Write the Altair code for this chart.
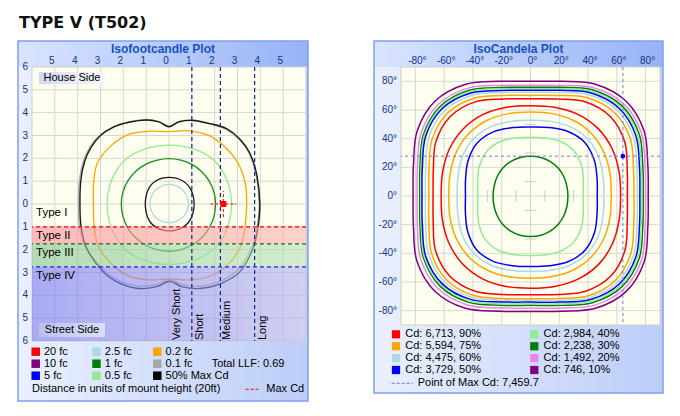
import math
import altair as alt
import pandas as pd

# ------------------------------------------------------------------ data
MAIN_TITLE = "TYPE V (T502)"
FC_TITLE = "Isofootcandle Plot"
CD_TITLE = "IsoCandela Plot"

# sampling directions (degrees) used by the contour radius tables
ANGLES = [0, 15, 30, 45, 60, 75, 90, 105, 120, 135, 150, 165,
          180, 195, 210, 225, 240, 255, 270, 285, 300, 315, 330, 345]

# --- Isofootcandle plot (units of mounting height, + = house side)
FC_X_LABELS = [-5, -4, -3, -2, -1, 0, 1, 2, 3, 4, 5]
FC_Y_LABELS = [6, 5, 4, 3, 2, 1, 0, -1, -2, -3, -4, -5, -6]
FC_GRID = [-5, -4, -3, -2, -1, 0, 1, 2, 3, 4, 5]
LATERAL_BOUNDS = [1.0, 2.25, 3.75]
LATERAL_LABELS = ["Very Short", "Short", "Medium", "Long"]
TYPE_BOUNDS = [-1.0, -1.75, -2.75, -6.0]
TYPE_LABELS = ["Type I", "Type II", "Type III", "Type IV"]
SIDE_LABELS = ["House Side", "Street Side"]

FC_R_ORANGE_02 = [3.40, 3.46, 3.51, 3.50, 3.47, 3.32, 3.17, 3.30, 3.52, 3.60, 3.62, 3.42,
                  3.31, 3.40, 3.60, 3.64, 3.62, 3.44, 3.28, 3.44, 3.64, 3.70, 3.64, 3.46]
FC_R_LGREEN_05 = [2.74, 2.743, 2.754, 2.745, 2.672, 2.604, 2.58, 2.602, 2.665, 2.73, 2.731, 2.715,
                  2.71, 2.72, 2.75, 2.766, 2.719, 2.667, 2.65, 2.669, 2.726, 2.781, 2.772, 2.748]
FC_R_GREEN_1 = [2.04, 2.037, 2.028, 2.015, 2.002, 1.993, 1.99, 1.993, 2.015, 2.04, 2.065, 2.083,
                2.09, 2.089, 2.085, 2.08, 2.075, 2.071, 2.07, 2.068, 2.063, 2.055, 2.048, 2.042]
FC_R_RING = [1.10, 1.11, 1.14, 1.171, 1.176, 1.172, 1.17, 1.168, 1.161, 1.14, 1.094, 1.053,
             1.04, 1.054, 1.097, 1.146, 1.168, 1.177, 1.18, 1.181, 1.183, 1.176, 1.142, 1.111]
FC_R_LBLUE_25 = [0.85, 0.85, 0.853, 0.855, 0.858, 0.86, 0.86, 0.86, 0.855, 0.85, 0.842, 0.835,
                 0.83, 0.83, 0.828, 0.825, 0.822, 0.82, 0.82, 0.82, 0.825, 0.83, 0.838, 0.845]

MAXCD50_X = [0.00, 0.45, 1.05, 1.80, 2.52, 3.10, 3.55, 3.85, 3.98, 3.90, 3.69, 3.12, 2.30, 1.35, 0.55, 0.03,
             -0.55, -1.30, -2.20, -2.90, -3.60, -3.85, -3.90, -3.86, -3.70, -3.40, -3.00, -2.45, -1.75, -1.00, -0.45]
MAXCD50_Y = [3.38, 3.60, 3.66, 3.52, 3.30, 2.85, 2.21, 1.25, 0.00, -1.00, -1.92, -2.95, -3.47, -3.70, -3.62, -3.38,
             -3.62, -3.70, -3.45, -2.95, -1.95, -1.00, 0.00, 1.05, 1.85, 2.50, 3.00, 3.36, 3.58, 3.68, 3.60]
FC01_X = [0.00, 0.45, 1.05, 1.80, 2.52, 3.10, 3.52, 3.82, 3.95, 3.86, 3.62, 3.05, 2.25, 1.35, 0.55, 0.03,
          -0.55, -1.30, -2.20, -2.90, -3.65, -3.92, -3.96, -3.92, -3.75, -3.45, -3.02, -2.45, -1.75, -1.00, -0.45]
FC01_Y = [3.42, 3.62, 3.68, 3.50, 3.26, 2.80, 2.20, 1.25, 0.00, -1.00, -1.90, -2.85, -3.38, -3.60, -3.52, -3.30,
          -3.52, -3.60, -3.36, -2.86, -1.90, -1.00, 0.00, 1.05, 1.87, 2.52, 3.02, 3.38, 3.60, 3.70, 3.62]

MAX_CD_FC = [2.38, 0.0]

FC_LEGEND_LABELS = ["20 fc", "10 fc", "5 fc", "2.5 fc", "1 fc", "0.5 fc", "0.2 fc", "0.1 fc", "50% Max Cd"]
FC_LEGEND_COLORS = ["#FF0000", "#800080", "#0000FF", "#ADD8E6", "#008000", "#90EE90", "#FFA500", "#A9A9A9", "#000000"]
LLF_TEXT = "Total LLF: 0.69"
DIST_TEXT = "Distance in units of mount height (20ft)"
MAXCD_TEXT = "Max Cd"

# --- IsoCandela plot (degrees)
CD_TICKS = [-80, -60, -40, -20, 0, 20, 40, 60, 80]
CD_CENTER_TICKS_V = [50, 30, 10, -10, -30]
CD_CENTER_TICKS_H = [-30, -10, 10, 30]
CD_LEVELS = ["90%", "75%", "60%", "50%", "40%", "30%", "20%", "10%"]
CD_COLORS = ["#FF0000", "#FFA500", "#ADD8E6", "#0000FF", "#90EE90", "#008000", "#EE82EE", "#800080"]
CD_OUTER = {
    "10%": [81.8, 84.4, 91.1, 93.8, 90.1, 82.8, 80.0, 82.8, 90.0, 93.7, 90.9, 84.2,
            81.6, 84.2, 91.1, 94.0, 90.5, 83.2, 80.5, 83.2, 90.5, 94.1, 91.3, 84.4],
    "20%": [80.0, 82.4, 88.8, 91.2, 87.2, 79.9, 77.2, 79.9, 86.9, 90.5, 87.8, 81.3,
            78.8, 81.4, 88.1, 91.1, 87.8, 80.8, 78.2, 80.9, 88.1, 91.8, 89.1, 82.5],
    "30%": [78.4, 80.8, 87.1, 89.4, 85.6, 78.5, 75.8, 78.4, 85.2, 88.6, 85.9, 79.5,
            77.0, 79.5, 86.0, 88.9, 85.7, 78.9, 76.3, 79.0, 86.0, 89.7, 87.2, 80.8],
    "40%": [77.2, 79.6, 85.8, 88.2, 84.4, 77.4, 74.8, 77.4, 84.2, 87.6, 85.0, 78.6,
            76.2, 78.6, 85.1, 87.8, 84.5, 77.8, 75.2, 77.8, 84.8, 88.4, 85.9, 79.6],
    "50%": [76.0, 78.4, 84.5, 86.8, 83.2, 76.3, 73.7, 76.2, 83.0, 86.5, 84.0, 77.8,
            75.4, 77.8, 84.1, 86.7, 83.3, 76.5, 74.0, 76.6, 83.4, 87.0, 84.6, 78.4],
    "60%": [74.2, 76.5, 82.6, 85.0, 81.5, 74.8, 72.3, 74.7, 81.2, 84.3, 81.6, 75.4,
            73.0, 75.4, 81.7, 84.6, 81.6, 75.2, 72.8, 75.3, 81.9, 85.3, 82.7, 76.6],
    "75%": [71.9, 74.1, 80.1, 82.4, 79.1, 72.6, 70.2, 72.6, 78.8, 81.7, 79.0, 73.0,
            70.7, 73.1, 79.5, 82.6, 80.0, 74.0, 71.7, 74.1, 80.4, 83.3, 80.5, 74.3],
    "90%": [67.3, 69.6, 75.6, 78.4, 75.9, 70.1, 67.9, 70.1, 76.0, 78.6, 75.9, 69.9,
            67.7, 70.0, 76.2, 79.2, 76.8, 71.1, 68.9, 71.1, 76.7, 79.0, 75.8, 69.6],
}
CD_INNER = {
    "90%": [62.6, 63.8, 65.6, 66.5, 65.8, 64.1, 63.0, 64.1, 65.7, 66.2, 65.2, 63.3,
            62.1, 63.4, 65.5, 66.9, 66.7, 65.3, 64.3, 65.3, 66.8, 67.2, 65.9, 63.8],
    "75%": [56.1, 57.3, 59.3, 60.7, 60.6, 59.5, 58.6, 59.5, 60.8, 61.1, 59.9, 57.9,
            56.8, 57.9, 59.5, 60.4, 59.8, 58.3, 57.3, 58.2, 59.6, 60.0, 59.0, 57.2],
    "60%": [51.0, 52.2, 54.7, 56.3, 55.7, 53.9, 52.9, 53.9, 55.7, 56.3, 54.7, 52.2,
            51.0, 52.2, 54.7, 56.2, 55.6, 53.7, 52.7, 53.7, 55.6, 56.2, 54.7, 52.2],
    "50%": [46.4, 47.9, 51.0, 53.1, 52.0, 49.5, 48.2, 49.4, 51.7, 52.4, 50.0, 46.7,
            45.2, 46.8, 50.3, 53.0, 52.5, 50.3, 49.2, 50.4, 52.8, 53.6, 51.3, 47.9],
    "40%": [36.6, 38.0, 41.1, 43.5, 43.5, 41.9, 41.0, 41.9, 43.5, 43.5, 41.1, 38.0,
            36.6, 38.0, 41.2, 43.8, 43.9, 42.4, 41.5, 42.4, 43.9, 43.8, 41.2, 38.0],
    "30%": [26.0, 26.2, 26.8, 27.4, 27.7, 27.8, 27.8, 27.8, 27.7, 27.4, 26.8, 26.2,
            26.0, 26.3, 26.9, 27.6, 28.1, 28.3, 28.3, 28.3, 28.1, 27.6, 26.9, 26.3],
}
MAX_CD_H = 64.2
MAX_CD_V = 27.8
CD_LEGEND_LABELS = ["Cd: 6,713, 90%", "Cd: 5,594, 75%", "Cd: 4,475, 60%", "Cd: 3,729, 50%",
                    "Cd: 2,984, 40%", "Cd: 2,238, 30%", "Cd: 1,492, 20%", "Cd: 746, 10%"]
MAX_CD_TEXT = "Point of Max Cd: 7,459.7"

# ------------------------------------------------------------------ style / layout
FONT = "Liberation Sans"
TITLE_FONT = "DejaVu Sans"
AXIS_COLOR = "#13348F"
TITLE_COLOR = "#1652C0"
BORDER = "#7F9FF0"
GRID_COLOR = "#D6D6D6"
PLOT_BG = "#FFFFF0"

LW, LH = 274, 274
RW, RH = 259, 258
SPACING = 95
PPU = LW / 12.0


def grad(c0, c1, x2=1, y2=0):
    return {"gradient": "linear", "x1": 0, "y1": 0, "x2": x2, "y2": y2,
            "stops": [{"offset": 0, "color": c0}, {"offset": 1, "color": c1}]}


FRAME_GRAD = grad("#EAF0FF", "#BCCDF8")
TOP_GRAD = grad("#D9E4FF", "#97B3F7")
BAND_GRADS = [grad("#FF8C96", "#FFB4AE"), grad("#82C48C", "#B7DFBA"), grad("#7171F7", "#B1B1F0")]
TYPE_LINE_COLORS = ["#FF0000", "#1E6B1E", "#1F1FFF"]
LAT_COLOR = "#0A2A8C"

ONE = pd.DataFrame({"k": [0]})

XS_L = alt.Scale(domain=[-6, 6], nice=False, zero=False)
YS_L = alt.Scale(domain=[-6, 6], nice=False, zero=False)
XS_R = alt.Scale(domain=[-90, 90], nice=False, zero=False)
YS_R = alt.Scale(domain=[-90, 90], nice=False, zero=False)


def px_rect(x1, y1, x2, y2, **kw):
    return alt.Chart(ONE).mark_rect(**kw).encode(
        x=alt.value(x1), x2=alt.value(x2), y=alt.value(y1), y2=alt.value(y2))


def px_rule(x1, y1, x2, y2, **kw):
    return alt.Chart(ONE).mark_rule(**kw).encode(
        x=alt.value(x1), x2=alt.value(x2), y=alt.value(y1), y2=alt.value(y2))


def px_text(txt, x, y, **kw):
    base = dict(font=FONT, fontSize=11, color="black", align="left", baseline="middle")
    base.update(kw)
    return alt.Chart(ONE).mark_text(text=txt, **base).encode(x=alt.value(x), y=alt.value(y))


def px_square(x, y, color, size=72):
    return alt.Chart(ONE).mark_square(color=color, size=size, opacity=1).encode(
        x=alt.value(x), y=alt.value(y))


def polar_rows(radii, cid, color):
    rows = []
    for i, (a, r) in enumerate(zip(ANGLES, radii)):
        t = math.radians(a)
        rows.append({"x": r * math.cos(t), "y": r * math.sin(t), "o": i, "id": cid, "c": color})
    return rows


def xy_rows(xs, ys, cid, color):
    return [{"x": x, "y": y, "o": i, "id": cid, "c": color} for i, (x, y) in enumerate(zip(xs, ys))]


def contour_layer(rows, xs, ys, width=1.3):
    return alt.Chart(pd.DataFrame(rows)).mark_line(
        interpolate="cardinal-closed", strokeWidth=width).encode(
        x=alt.X("x:Q", scale=xs, axis=None),
        y=alt.Y("y:Q", scale=ys, axis=None),
        order="o:Q", detail="id:N",
        color=alt.Color("c:N", scale=None))


def tick_labels_x(values, labels, xs, dx):
    return alt.Chart(pd.DataFrame({"v": values, "t": labels})).mark_text(
        font=FONT, fontSize=10, color=AXIS_COLOR, align="center", baseline="middle", dx=dx).encode(
        x=alt.X("v:Q", scale=xs, axis=None), y=alt.value(-6), text="t:N")


def tick_labels_y(values, labels, ys):
    return alt.Chart(pd.DataFrame({"v": values, "t": labels})).mark_text(
        font=FONT, fontSize=10, color=AXIS_COLOR, align="right", baseline="middle").encode(
        x=alt.value(-4), y=alt.Y("v:Q", scale=ys, axis=None), text="t:N")


# ------------------------------------------------------------------ left panel
L = []
L.append(px_rect(-23, -58, 637, 338, fill="white"))
L.append(px_rect(-14, -26, 276, 334, fill=FRAME_GRAD))
L.append(px_rect(-14, -26, 276, 0, fill=TOP_GRAD))
L.append(px_rect(-14, -26, 276, 334, fillOpacity=0, stroke=BORDER, strokeWidth=1.5))
L.append(px_text(MAIN_TITLE, -13, -38.7, font=TITLE_FONT, fontSize=16, fontWeight="bold",
                 color="#111111", baseline="alphabetic"))
L.append(px_text(FC_TITLE, 131, -18.5, fontSize=12, fontWeight="bold", color=TITLE_COLOR, align="center"))
L.append(px_rect(0, 0, LW, LH, fill=PLOT_BG, stroke="#CFCFCF", strokeWidth=1))

L.append(alt.Chart(pd.DataFrame({"v": FC_GRID})).mark_rule(color=GRID_COLOR, strokeWidth=1).encode(
    x=alt.X("v:Q", scale=XS_L, axis=None)))
L.append(alt.Chart(pd.DataFrame({"v": FC_GRID})).mark_rule(color=GRID_COLOR, strokeWidth=1).encode(
    y=alt.Y("v:Q", scale=YS_L, axis=None)))
L.append(tick_labels_x(FC_X_LABELS, [str(abs(v)) for v in FC_X_LABELS], XS_L, -3))
L.append(tick_labels_y(FC_Y_LABELS, [str(abs(v)) for v in FC_Y_LABELS], YS_L))

L.append(contour_layer(xy_rows(FC01_X, FC01_Y, "fc01", "#AFAFAF"), XS_L, YS_L, 1.4))
L.append(contour_layer(xy_rows(MAXCD50_X, MAXCD50_Y, "maxcd", "#1A1A1A"), XS_L, YS_L, 1.4))
L.append(contour_layer(polar_rows(FC_R_ORANGE_02, "o", "#FFA500"), XS_L, YS_L))
L.append(contour_layer(polar_rows(FC_R_LGREEN_05, "lg", "#90EE90"), XS_L, YS_L))
L.append(contour_layer(polar_rows(FC_R_GREEN_1, "g", "#159015"), XS_L, YS_L))
L.append(contour_layer(polar_rows(FC_R_RING, "ring", "#1A1A1A"), XS_L, YS_L))
L.append(contour_layer(polar_rows(FC_R_LBLUE_25, "lb", "#ADD8E6"), XS_L, YS_L))

for i in range(3):
    df = pd.DataFrame({"y1": [TYPE_BOUNDS[i]], "y2": [TYPE_BOUNDS[i + 1]]})
    L.append(alt.Chart(df).mark_rect(fill=BAND_GRADS[i], opacity=0.6).encode(
        x=alt.value(0), x2=alt.value(LW),
        y=alt.Y("y1:Q", scale=YS_L, axis=None), y2="y2:Q"))

L.append(alt.Chart(pd.DataFrame({"v": LATERAL_BOUNDS})).mark_rule(
    color=LAT_COLOR, strokeDash=[4, 3], strokeWidth=1.2).encode(
    x=alt.X("v:Q", scale=XS_L, axis=None)))
for i, c in enumerate(TYPE_LINE_COLORS):
    L.append(alt.Chart(pd.DataFrame({"v": [TYPE_BOUNDS[i]]})).mark_rule(
        color=c, strokeDash=[4, 3], strokeWidth=1.2).encode(
        y=alt.Y("v:Q", scale=YS_L, axis=None)))

type_y = [TYPE_BOUNDS[0] + 14 / PPU, TYPE_BOUNDS[0] - 9 / PPU, TYPE_BOUNDS[1] - 9 / PPU, TYPE_BOUNDS[2] - 9 / PPU]
L.append(alt.Chart(pd.DataFrame({"y": type_y, "t": TYPE_LABELS})).mark_text(
    font=FONT, fontSize=11.5, color="black", align="left", baseline="middle").encode(
    x=alt.value(4), y=alt.Y("y:Q", scale=YS_L, axis=None), text="t:N"))

lat_x = [LATERAL_BOUNDS[0] - 15 / PPU, LATERAL_BOUNDS[0] + 8 / PPU,
         LATERAL_BOUNDS[1] + 7 / PPU, LATERAL_BOUNDS[2] + 8 / PPU]
L.append(alt.Chart(pd.DataFrame({"x": lat_x, "t": LATERAL_LABELS})).mark_text(
    font=FONT, fontSize=11, color="black", align="left", baseline="middle", angle=270).encode(
    x=alt.X("x:Q", scale=XS_L, axis=None), y=alt.value(LH - 1), text="t:N"))

L.append(px_rect(7, 5, 73, 17, fill=grad("#D2D8F2", "#F7F8FD")))
L.append(px_text(SIDE_LABELS[0], 40, 11, align="center"))
L.append(px_rect(7, 256, 73, 270, fill=grad("#B9BEF0", "#DCDFF8")))
L.append(px_text(SIDE_LABELS[1], 40, 263, align="center"))

mx, my = MAX_CD_FC
half = 13 / PPU
L.append(alt.Chart(pd.DataFrame({"x1": [mx - half], "x2": [mx + half], "y": [my]})).mark_rule(
    color="#FF0000", strokeDash=[3, 2]).encode(
    x=alt.X("x1:Q", scale=XS_L, axis=None), x2="x2:Q", y=alt.Y("y:Q", scale=YS_L, axis=None)))
L.append(alt.Chart(pd.DataFrame({"x": [mx], "y1": [my - half], "y2": [my + half]})).mark_rule(
    color="#FF0000", strokeDash=[3, 2]).encode(
    x=alt.X("x:Q", scale=XS_L, axis=None), y=alt.Y("y1:Q", scale=YS_L, axis=None), y2="y2:Q"))
L.append(alt.Chart(pd.DataFrame({"x": [mx], "y": [my]})).mark_square(
    color="#FF0000", size=36, opacity=1).encode(
    x=alt.X("x:Q", scale=XS_L, axis=None), y=alt.Y("y:Q", scale=YS_L, axis=None)))

for k, (lab, col) in enumerate(zip(FC_LEGEND_LABELS, FC_LEGEND_COLORS)):
    j, i = k // 3, k % 3
    yy = 284.7 + 12 * i
    L.append(px_square(3.7 + 60.8 * j, yy, col))
    L.append(px_text(lab, 12 + 60.8 * j, yy))
L.append(px_text(LLF_TEXT, 179.7, 296.7))
L.append(px_text(DIST_TEXT, 0, 322.3))
L.append(px_rule(213.7, 322.3, 226.3, 322.3, color="#FF0000", strokeDash=[3, 2]))
L.append(px_text(MAXCD_TEXT, 234.3, 322.3))

left = alt.layer(*L).properties(width=LW, height=LH)

# ------------------------------------------------------------------ right panel
R = []
R.append(px_rect(-27, -26, 262, 326, fill=FRAME_GRAD))
R.append(px_rect(-27, -26, 262, 0, fill=TOP_GRAD))
R.append(px_rect(-27, -26, 262, 326, fillOpacity=0, stroke=BORDER, strokeWidth=1.5))
R.append(px_text(CD_TITLE, 117.5, -18.5, fontSize=12, fontWeight="bold", color=TITLE_COLOR, align="center"))
R.append(px_rect(0, 0, RW, RH, fill=PLOT_BG, stroke="#CFCFCF", strokeWidth=1))

R.append(alt.Chart(pd.DataFrame({"v": CD_TICKS})).mark_rule(color=GRID_COLOR, strokeWidth=1).encode(
    x=alt.X("v:Q", scale=XS_R, axis=None)))
R.append(alt.Chart(pd.DataFrame({"v": CD_TICKS})).mark_rule(color=GRID_COLOR, strokeWidth=1).encode(
    y=alt.Y("v:Q", scale=YS_R, axis=None)))
R.append(tick_labels_x(CD_TICKS, [f"{v}°" for v in CD_TICKS], XS_R, 2))
R.append(tick_labels_y(CD_TICKS, [f"{v}°" for v in CD_TICKS], YS_R))

th = 4
R.append(alt.Chart(pd.DataFrame({"y": CD_CENTER_TICKS_V})).transform_calculate(
    x1=f"-{th}", x2=f"{th}").mark_rule(color="#C9C9C9").encode(
    x=alt.X("x1:Q", scale=XS_R, axis=None), x2="x2:Q", y=alt.Y("y:Q", scale=YS_R, axis=None)))
R.append(alt.Chart(pd.DataFrame({"x": CD_CENTER_TICKS_H})).transform_calculate(
    y1=f"-{th}", y2=f"{th}").mark_rule(color="#C9C9C9").encode(
    x=alt.X("x:Q", scale=XS_R, axis=None), y=alt.Y("y1:Q", scale=YS_R, axis=None), y2="y2:Q"))

rows = []
for lev, col in zip(CD_LEVELS[::-1], CD_COLORS[::-1]):
    rows += polar_rows(CD_OUTER[lev], "out" + lev, col)
for lev, col in zip(CD_LEVELS, CD_COLORS):
    if lev in CD_INNER:
        rows += polar_rows(CD_INNER[lev], "in" + lev, col)
R.append(contour_layer(rows, XS_R, YS_R, 1.5))

R.append(alt.Chart(pd.DataFrame({"v": [MAX_CD_H]})).mark_rule(
    color="#7474F4", strokeDash=[3, 3], strokeWidth=1).encode(x=alt.X("v:Q", scale=XS_R, axis=None)))
R.append(alt.Chart(pd.DataFrame({"v": [MAX_CD_V]})).mark_rule(
    color="#7474F4", strokeDash=[3, 3], strokeWidth=1).encode(y=alt.Y("v:Q", scale=YS_R, axis=None)))
R.append(alt.Chart(pd.DataFrame({"x": [MAX_CD_H], "y": [MAX_CD_V]})).mark_circle(
    color="#0000FF", size=22, opacity=1).encode(
    x=alt.X("x:Q", scale=XS_R, axis=None), y=alt.Y("y:Q", scale=YS_R, axis=None)))

for k, (lab, col) in enumerate(zip(CD_LEGEND_LABELS, CD_COLORS)):
    j, i = k // 4, k % 4
    yy = 267.3 + 11.9 * i
    R.append(px_square(-5 + 138.3 * j, yy, col, 68))
    R.append(px_text(lab, 4.3 + 138.3 * j, yy))
R.append(px_rule(-9.3, 316.3, 11.7, 316.3, color="#7474F4", strokeDash=[3, 2]))
R.append(px_text(MAX_CD_TEXT, 16.7, 316.3))

right = alt.layer(*R).properties(width=RW, height=RH)

chart = alt.hconcat(left, right, spacing=SPACING, bounds="flush").properties(
    padding=0).configure(font=FONT).configure_view(stroke="transparent")

chart.save("out.html", embed_options={"renderer": "svg", "actions": False})
